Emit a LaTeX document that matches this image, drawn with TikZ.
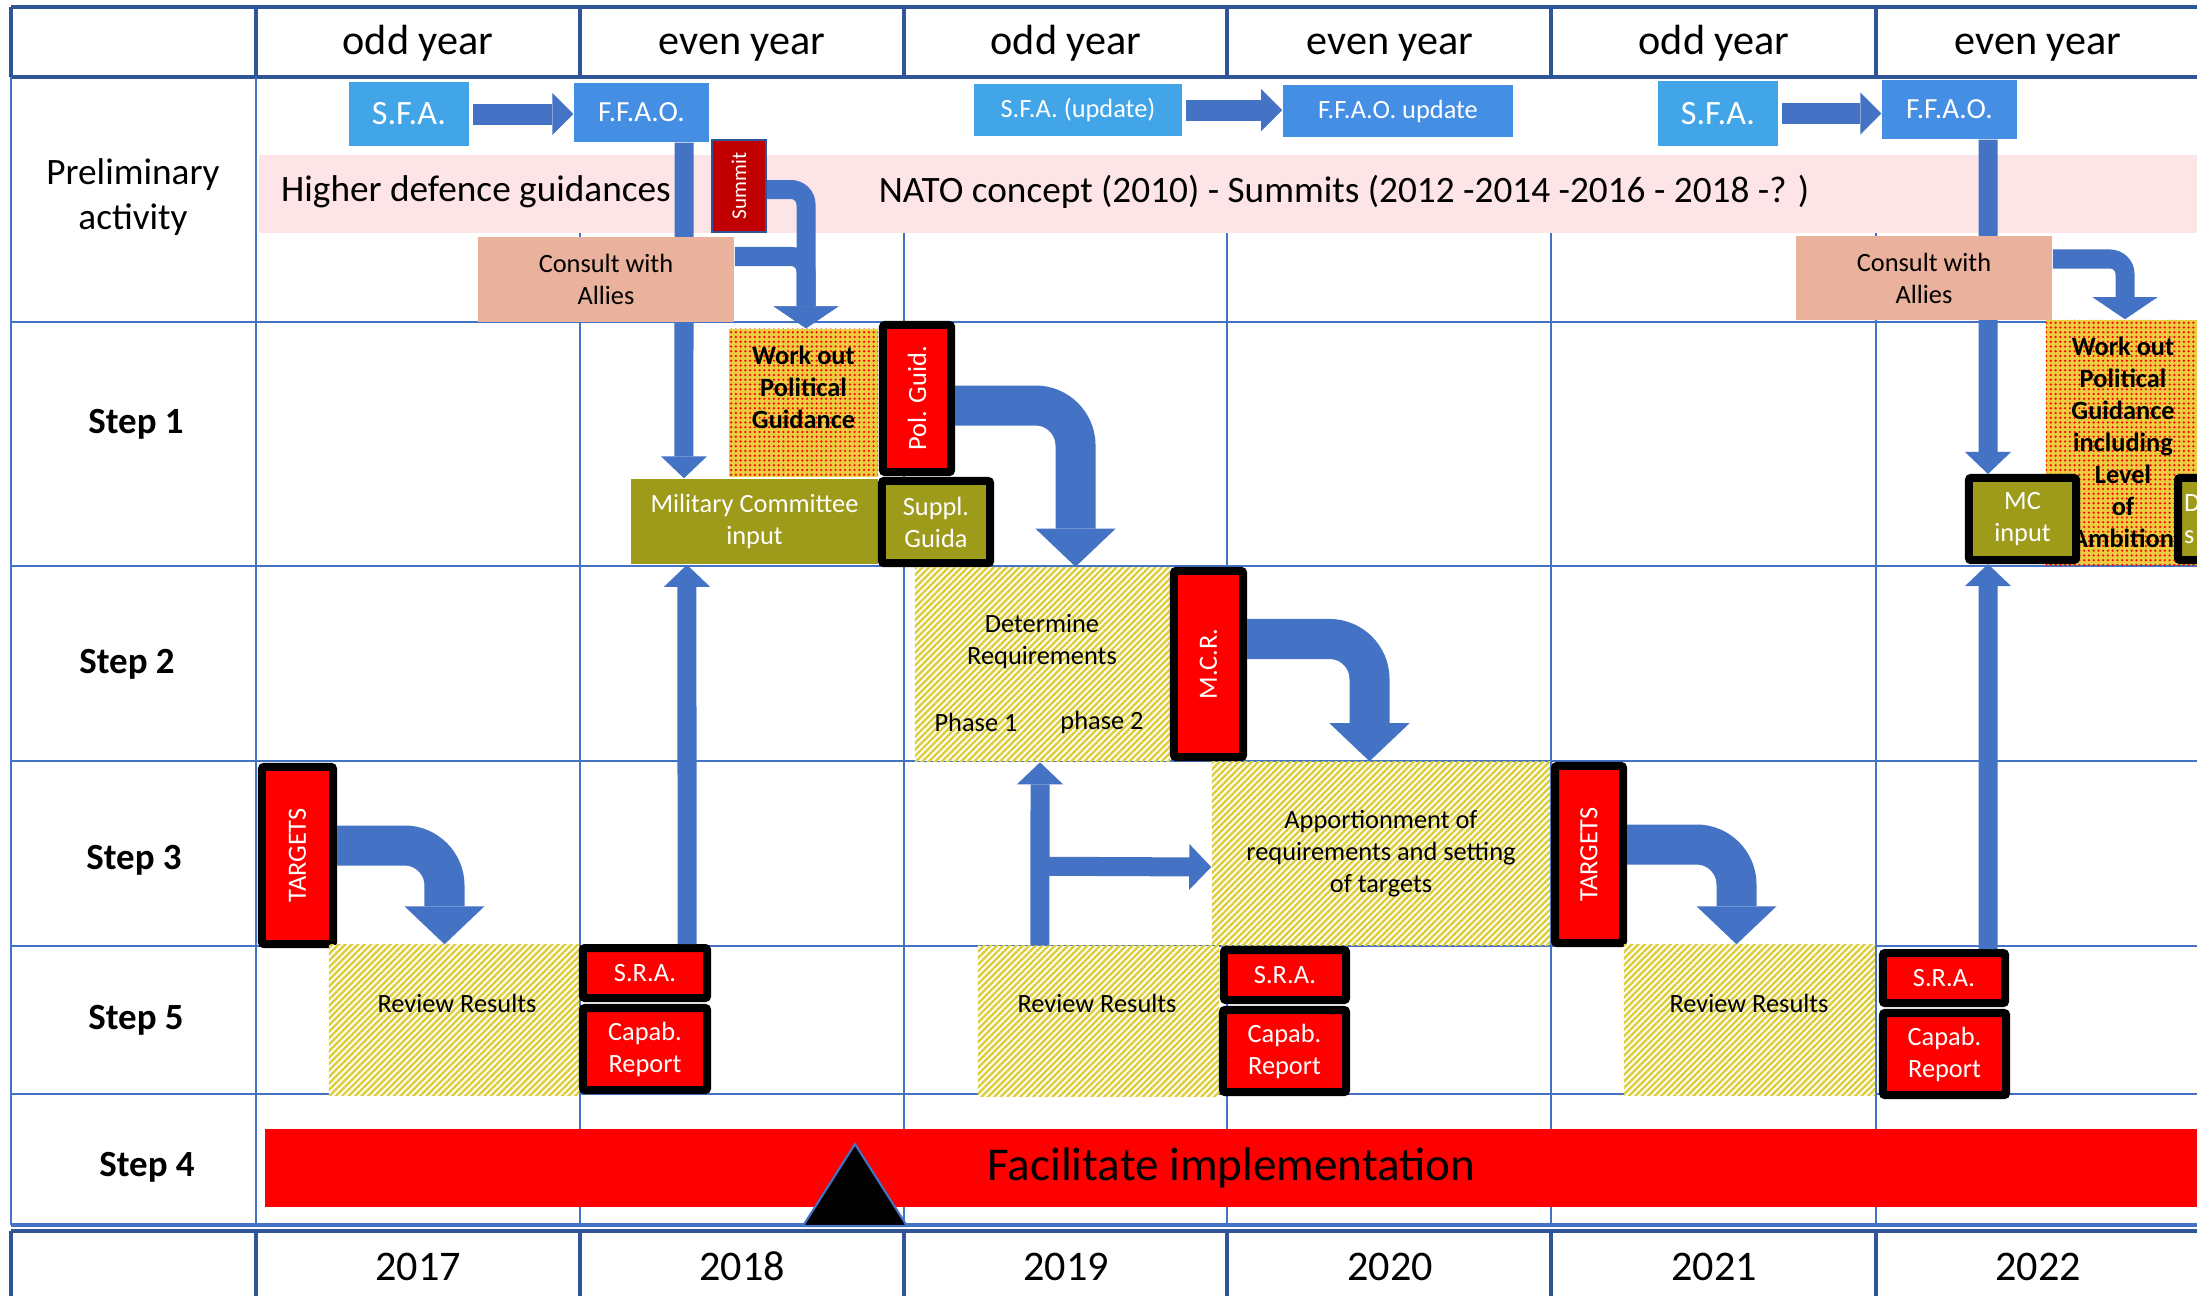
\documentclass[tikz,border=0pt]{standalone}
\usepackage{fontspec}
\setmainfont{Carlito}
\usepackage{xcolor}
\usetikzlibrary{arrows.meta}
\usetikzlibrary{patterns.meta}

\definecolor{gridblue}{RGB}{68,114,196}
\definecolor{headblue}{RGB}{47,85,151}
\definecolor{arrowblue}{RGB}{68,114,196}
\definecolor{sfablue}{RGB}{66,165,232}
\definecolor{ffaoblue}{RGB}{68,142,228}
\definecolor{bandpink}{RGB}{253,228,230}
\definecolor{consultpink}{RGB}{234,177,156}
\definecolor{summitred}{RGB}{192,0,0}
\definecolor{mcolive}{RGB}{158,154,26}
\definecolor{hatchyellow}{RGB}{222,206,60}
\definecolor{dotyellow}{RGB}{236,205,65}

\pgfdeclarelayer{front}
\pgfsetlayers{main,front}

\begin{document}
\begin{tikzpicture}[x=0.01cm,y=-0.01cm,
		gridline/.style={gridblue,line width=0.45pt},
		headline/.style={headblue,line width=0.9pt},
		cell/.style={inner sep=0pt,align=center},
		colhead/.style={cell,anchor=base,font=\fontsize{12}{14}\selectfont},
		row label/.style={cell,font=\fontsize{10.6}{12.8}\selectfont},
		step label/.style={cell,font=\bfseries\fontsize{10.5}{12.6}\selectfont},
		band text/.style={cell,font=\fontsize{10.6}{12.8}\selectfont},
		small text/.style={cell,font=\fontsize{7.5}{9.1}\selectfont},
		bold text/.style={cell,font=\bfseries\fontsize{7.5}{9.1}\selectfont},
		sfa node/.style={cell,fill=sfablue,text=white},
		ffao node/.style={cell,fill=ffaoblue,text=white},
		consult node/.style={small text,fill=consultpink},
		red node/.style={small text,draw=black,line width=0.08cm,rounded corners=0.02cm,fill=red,text=white},
		olive node/.style={small text,fill=mcolive,text=white},
		framed olive/.style={olive node,draw=black,line width=0.08cm,rounded corners=0.02cm},
		hatch node/.style={cell,preaction={fill=white},pattern={Lines[angle=45,distance=1.3pt,line width=0.7pt]},pattern color=hatchyellow},
		dot node/.style={cell,preaction={fill=dotyellow},pattern={Dots[radius=0.35pt,distance=1.35pt]},pattern color=red},
		flat arrow/.style={arrowblue,line width=0.21cm,-{Triangle[length=0.21cm,width=0.42cm,line width=0pt]}},
		thin arrow/.style={arrowblue,line width=0.19cm,-{Triangle[length=0.22cm,width=0.46cm,line width=0pt]}},
		bend arrow/.style={arrowblue,line width=0.19cm,rounded corners=0.15cm,-{Triangle[length=0.22cm,width=0.65cm,line width=0pt]}},
		big arrow/.style={arrowblue,line width=0.40cm,rounded corners=0.40cm,-{Triangle[length=0.38cm,width=0.80cm,line width=0pt]}}]
	\useasboundingbox (0,0) rectangle (2197,1296);
	\clip (0,0) rectangle (2197,1296);

	% Grid
	\foreach \y in {322,566,761,946,1094}
		\draw[gridline] (11,\y) -- (2197,\y);
	\draw[gridline,line width=0.9pt] (11,1225) -- (2197,1225);
	\draw[headline] (11,7) -- (2197,7);
	\draw[headline] (11,77) -- (2197,77);
	\draw[headline] (11,1231) -- (2197,1231);
	\draw[headline] (11,7) -- (11,77);
	\draw[gridline] (11,77) -- (11,1225);
	\draw[headline] (11,1231) -- (11,1296);
	\foreach \x in {256,580,904,1227,1551,1876} {
		\draw[headline] (\x,7) -- (\x,77);
		\draw[headline] (\x,1231) -- (\x,1296);
	}
	\draw[gridline] (256,77) -- (256,1225);
	\foreach \x in {580,904,1227,1551,1876}
		\draw[gridline] (\x,233) -- (\x,1225);

	% Nodes
	\foreach \parity [count=\i] in {odd,even,odd,even,odd,even}
		\node[colhead] (col\i) at (94+324*\i,54) {\parity\ year};
	\foreach \yr [count=\i] in {2017,2018,2019,2020,2021,2022}
		\node[colhead] (year\i) at (94+324*\i,1280) {\yr};

	\node[row label] (prelim) at (133,197) {Preliminary\\activity};
	\node[step label] (step1) at (136,424) {Step 1};
	\node[step label] (step2) at (127,664) {Step 2};
	\node[step label] (step3) at (134,860) {Step 3};
	\node[step label] (step5) at (136,1020) {Step 5};
	\node[step label] (step4) at (147,1167) {Step 4};

	\node[cell,fill=bandpink,minimum width=19.50cm,minimum height=0.78cm] (band) at (1235,194) {};
	\node[band text] (hdg) at (476,192) {Higher defence guidances};
	\node[band text] (nato) at (1344,192) {NATO concept (2010) - Summits (2012 -2014 -2016 - 2018 -? )};

	\node[sfa node,font=\fontsize{9.7}{11}\selectfont,minimum width=1.20cm,minimum height=0.64cm] (sfa1) at (409,114) {S.F.A.};
	\node[ffao node,font=\fontsize{8.3}{10}\selectfont,minimum width=1.35cm,minimum height=0.59cm] (ffao1) at (641.5,112.5) {F.F.A.O.};
	\node[sfa node,font=\fontsize{7.5}{9}\selectfont,minimum width=2.08cm,minimum height=0.52cm] (sfa2) at (1078,110) {S.F.A. (update)};
	\node[ffao node,font=\fontsize{7.5}{9}\selectfont,minimum width=2.30cm,minimum height=0.52cm] (ffao2) at (1398,111) {F.F.A.O. update};
	\node[sfa node,font=\fontsize{9.7}{11}\selectfont,minimum width=1.20cm,minimum height=0.65cm] (sfa3) at (1718,113.5) {S.F.A.};
	\node[ffao node,font=\fontsize{8.3}{10}\selectfont,minimum width=1.35cm,minimum height=0.59cm] (ffao3) at (1949.5,109.5) {F.F.A.O.};
	\node[cell,fill=summitred,draw=headblue,line width=0.5pt,text=white,font=\fontsize{6}{7}\selectfont,minimum width=0.54cm,minimum height=0.92cm] (summit) at (739,186) {\rotatebox{90}{Summit}};
	\begin{pgfonlayer}{front}
		\node[consult node,minimum width=2.56cm,minimum height=0.85cm] (consult1) at (606,279.5) {Consult with\\Allies};
		\node[consult node,minimum width=2.56cm,minimum height=0.84cm] (consult2) at (1924,278) {Consult with\\Allies};
	\end{pgfonlayer}

	\node[dot node,minimum width=1.49cm,minimum height=1.48cm] (work1) at (803.5,403) {};
	\node[bold text] (work1txt) at (803.5,387) {Work out\\Political\\Guidance};
	\node[red node,minimum width=0.68cm,minimum height=1.47cm] (pol1) at (917,398.5) {\rotatebox{90}{Pol. Guid.}};
	\node[olive node,minimum width=2.47cm,minimum height=0.85cm] (mc1) at (754.5,521.5) {Military Committee\\input};
	\node[framed olive,minimum width=1.08cm,minimum height=0.82cm] (suppl1) at (936,522) {Suppl.\\Guida};
	\node[dot node,minimum width=1.64cm,minimum height=2.45cm] (work2) at (2128,442.5) {};
	\node[bold text] (work2txt) at (2123,442.5) {Work out\\Political\\Guidance\\including\\Level\\of\\Ambition};
	\node[framed olive,minimum width=1.07cm,minimum height=0.82cm] (mc2) at (2022.5,519) {MC\\input};
	\node[framed olive,minimum width=0.62cm,minimum height=0.82cm,text width=0.5cm,align=left] (dpg) at (2209,519) {D\\s};

	\node[hatch node,minimum width=2.55cm,minimum height=1.93cm] (det1) at (1042.5,664.5) {};
	\node[small text] (det1txt) at (1042,641.5) {Determine\\Requirements};
	\node[small text] (phase1) at (976,722) {Phase 1};
	\node[small text] (phase2) at (1102,722) {phase 2};
	\node[red node,minimum width=0.69cm,minimum height=1.86cm] (mcr1) at (1208.5,664) {\rotatebox{90}{M.C.R.}};

	\node[red node,minimum width=0.71cm,minimum height=1.77cm] (tgt1) at (297.5,855.5) {\rotatebox{90}{TARGETS}};
	\node[hatch node,small text,minimum width=3.38cm,minimum height=1.83cm] (app1) at (1381,853.5) {Apportionment of\\requirements and setting\\of targets};
	\node[red node,minimum width=0.68cm,minimum height=1.77cm] (tgt2) at (1589,854.5) {\rotatebox{90}{TARGETS}};

	\node[hatch node,minimum width=2.50cm,minimum height=1.50cm] (rev1) at (454,1020) {};
	\node[small text] (rev1txt) at (457,1003) {Review Results};
	\node[red node,minimum width=1.24cm,minimum height=0.50cm] (sra1) at (645,973) {S.R.A.};
	\node[red node,minimum width=1.24cm,minimum height=0.82cm] (cap1) at (645,1049) {Capab.\\Report};
	\node[hatch node,minimum width=2.41cm,minimum height=1.50cm] (rev2) at (1098.5,1021) {};
	\node[small text] (rev2txt) at (1097,1003) {Review Results};
	\node[red node,minimum width=1.22cm,minimum height=0.50cm] (sra2) at (1285,975) {S.R.A.};
	\node[red node,minimum width=1.23cm,minimum height=0.82cm] (cap2) at (1284.5,1051) {Capab.\\Report};
	\node[hatch node,minimum width=2.51cm,minimum height=1.50cm] (rev3) at (1749.5,1020) {};
	\node[small text] (rev3txt) at (1749,1003) {Review Results};
	\node[red node,minimum width=1.22cm,minimum height=0.50cm] (sra3) at (1944,978) {S.R.A.};
	\node[red node,minimum width=1.23cm,minimum height=0.82cm] (cap3) at (1944.5,1054) {Capab.\\Report};

	\node[cell,fill=red,minimum width=19.31cm,minimum height=0.78cm,font=\fontsize{13.4}{16}\selectfont] (impl) at (1231.5,1168) {Facilitate implementation};

	% Edges
	\draw[flat arrow] ([xshift=0.03cm]sfa1.east) -- (sfa1.east -| ffao1.west);
	\draw[flat arrow] ([xshift=0.03cm]sfa2.east) -- (sfa2.east -| ffao2.west);
	\draw[flat arrow] ([xshift=0.03cm]sfa3.east) -- (sfa3.east -| ffao3.west);
	\draw[thin arrow] ([xshift=0.425cm]ffao1.south) -- ([xshift=-0.705cm]mc1.north);
	\draw[thin arrow] ([xshift=0.385cm]ffao3.south) -- ([xshift=-0.345cm]mc2.north);
	\draw[bend arrow] ([yshift=-0.035cm]summit.east) -| ([xshift=0.025cm]work1.north);
	\draw[bend arrow] ([yshift=0.23cm]consult1.east) -| ([xshift=0.025cm]work1.north);
	\draw[bend arrow] ([yshift=0.19cm]consult2.east) -| ([xshift=-0.03cm]work2.north);
	\draw[big arrow] ([yshift=-0.07cm]pol1.east) -| ([xshift=0.33cm]det1.north);
	\draw[big arrow] ([yshift=0.25cm]mcr1.east) -| ([xshift=-0.115cm]app1.north);
	\draw[big arrow] ([yshift=0.10cm]tgt1.east) -| ([xshift=-0.095cm]rev1.north);
	\draw[big arrow] ([yshift=0.10cm]tgt2.east) -| ([xshift=-0.13cm]rev3.north);
	\draw[thin arrow] ([xshift=0.42cm]sra1.north) -- ([xshift=-0.675cm]mc1.south);
	\draw[thin arrow] ([xshift=0.44cm]sra3.north) -- ([xshift=-0.345cm]mc2.south);
	\draw[thin arrow] ([xshift=-0.585cm]rev2.north) -- ([xshift=-0.025cm]det1.south);
	\draw[thin arrow] ([xshift=-0.585cm,yshift=0.79cm]rev2.north) -- ([yshift=-0.135cm]app1.west);

	% Marker
	\draw[fill=black,draw=gridblue,line width=0.6pt] (803,1226) -- (855,1144) -- (907,1226) -- cycle;
\end{tikzpicture}
\end{document}
